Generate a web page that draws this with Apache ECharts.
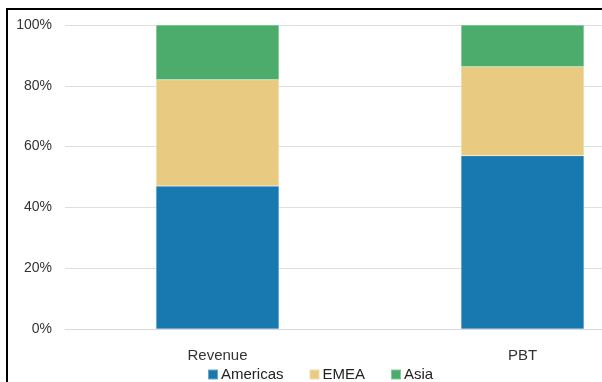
<!DOCTYPE html>
<html><head><meta charset="utf-8">
<script src="https://cdn.jsdelivr.net/npm/echarts@6/dist/echarts.min.js"></script>
<style>html,body{margin:0;padding:0;background:#fff;overflow:hidden}#c{width:680px;height:382px}</style>
</head><body><div id="c"></div>
<script>
const categories = ['Revenue', 'PBT'];
const americas = [47, 57];
const emea = [35, 29.3];
const asia = [18, 13.7];
const yTicks = [0, 20, 40, 60, 80, 100];

const chart = echarts.init(document.getElementById('c'), null, {renderer: 'canvas'});
const font = 'Liberation Sans, Arial, sans-serif';
const mk = (name, data, color) => ({
  name, type: 'bar', stack: 's', data, barWidth: 123,
  itemStyle: {color, borderColor: 'rgba(255,255,255,0.35)', borderWidth: 0.5},
  emphasis: {disabled: true}
});
chart.setOption({
  animation: false,
  backgroundColor: '#fff',
  grid: {left: 65, width: 610, top: 25, height: 304, containLabel: false},
  graphic: [{type: 'rect', shape: {x: 7, y: 9, width: 700, height: 500},
    style: {fill: 'none', stroke: '#000', lineWidth: 2}, z: 100}],
  legend: {
    data: ['Americas', 'EMEA', 'Asia'], left: 202, top: 362,
    itemWidth: 10, itemHeight: 10, itemGap: 25, icon: 'rect',
    textStyle: {fontFamily: font, fontSize: 15, color: '#222', padding: [0, 0, 0, -2]}
  },
  xAxis: {
    type: 'category', data: categories,
    axisLine: {show: true, lineStyle: {color: '#d9d9d9', width: 1}},
    axisTick: {show: false},
    axisLabel: {fontFamily: font, fontSize: 15, color: '#333', margin: 19}
  },
  yAxis: {
    type: 'value', min: 0, max: 100, interval: 20,
    axisLine: {show: false}, axisTick: {show: false},
    splitLine: {lineStyle: {color: '#dedede', width: 1}},
    axisLabel: {fontFamily: font, fontSize: 14, color: '#333', margin: 13,
      formatter: v => yTicks.includes(v) ? v + '%' : ''}
  },
  series: [
    mk('Americas', americas, '#1879b0'),
    mk('EMEA', emea, '#e8cb80'),
    mk('Asia', asia, '#4bac6b')
  ]
});
</script></body></html>
